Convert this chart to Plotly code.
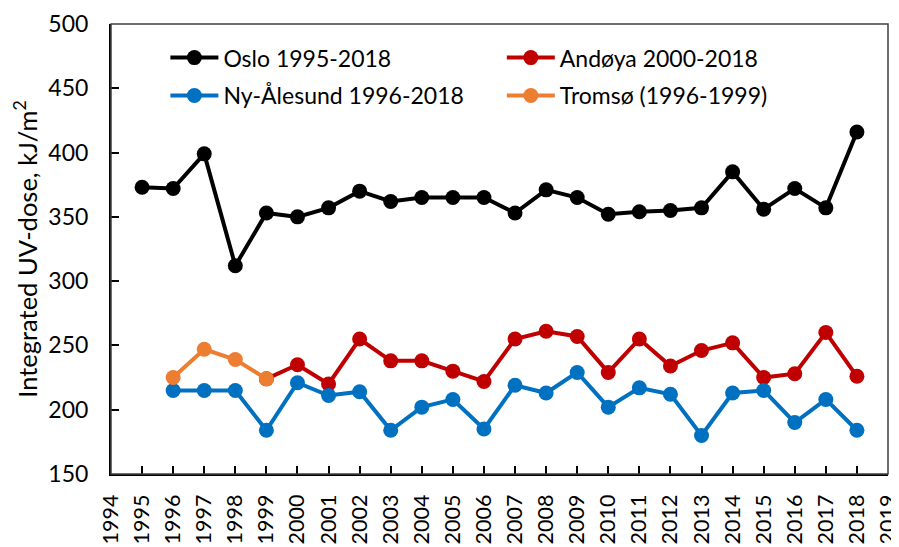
import plotly.graph_objects as go

years = list(range(1995, 2019))

oslo = [373, 372, 399, 312, 353, 350, 357, 370, 362, 365, 365, 365,
        353, 371, 365, 352, 354, 355, 357, 385, 356, 372, 357, 416]

andoya_years = list(range(1999, 2019))
andoya = [224, 235, 220, 255, 238, 238, 230, 222, 255, 261, 257, 229,
          255, 234, 246, 252, 225, 228, 260, 226]

ny_years = list(range(1996, 2019))
ny_alesund = [215, 215, 215, 184, 221, 211, 214, 184, 202, 208, 185, 219,
              213, 229, 202, 217, 212, 180, 213, 215, 190, 208, 184]

tromso_years = [1996, 1997, 1998, 1999]
tromso = [225, 247, 239, 224]

xtick_years = list(range(1994, 2020))

FONT = "Lato"

fig = go.Figure()

series = [
    ("Oslo 1995-2018", years, oslo, "#000000", "legend"),
    ("Andøya 2000-2018", andoya_years, andoya, "#C00000", "legend2"),
    ("Ny-Ålesund 1996-2018", ny_years, ny_alesund, "#0070C0", "legend"),
    ("Tromsø (1996-1999)", tromso_years, tromso, "#ED7D31", "legend2"),
]

for name, xs, ys, color, leg in series:
    fig.add_trace(go.Scatter(
        x=xs, y=ys, mode="lines+markers", name=name,
        legend=leg, legendgroup=name,
        line=dict(color=color, width=4),
        marker=dict(color=color, size=15),
    ))

fig.update_xaxes(
    range=[1994, 2019.0001], automargin=False,
    tickmode="array", tickvals=xtick_years,
    ticktext=[str(y) for y in xtick_years],
    tickangle=-90, ticklabeloverflow="allow",
    ticks="inside", ticklen=8, tickwidth=2, tickcolor="#000000",
    showline=True, linecolor="#000000", linewidth=2,
    showgrid=False, zeroline=False,
    tickfont=dict(family=FONT, size=21.5, color="#000000"),
    ticklabelstandoff=10,
)

fig.update_yaxes(
    range=[150, 500], dtick=50, automargin=False,
    ticks="inside", ticklen=8, tickwidth=2, tickcolor="#000000",
    showline=True, linecolor="#000000", linewidth=2,
    showgrid=False, zeroline=False,
    tickfont=dict(family=FONT, size=23, color="#000000"),
    ticklabelstandoff=16,
    title=dict(text="Integrated UV-dose, kJ/m<sup>2</sup>",
               font=dict(family=FONT, size=25.5, color="#000000"),
               standoff=14),
)

# thin plot-area frame like the Excel original
fig.add_shape(type="rect", xref="paper", yref="paper",
              x0=0, y0=0, x1=1, y1=1,
              line=dict(color="#404040", width=1.5))

legend_style = dict(
    font=dict(family=FONT, size=23, color="#000000"),
    bgcolor="rgba(0,0,0,0)", borderwidth=0,
    orientation="v", tracegroupgap=5,
    xanchor="left", yanchor="top", itemwidth=48,
)

# page body adds an 8px offset, so the figure is drawn 8px smaller
fig.update_layout(
    width=891, height=539,
    margin=dict(l=103, r=11, t=16, b=73),
    paper_bgcolor="#ffffff", plot_bgcolor="#ffffff",
    showlegend=True,
    legend=dict(x=0.07, y=0.973, **legend_style),
    legend2=dict(x=0.503, y=0.973, **legend_style),
)

fig.write_html("out.html")
